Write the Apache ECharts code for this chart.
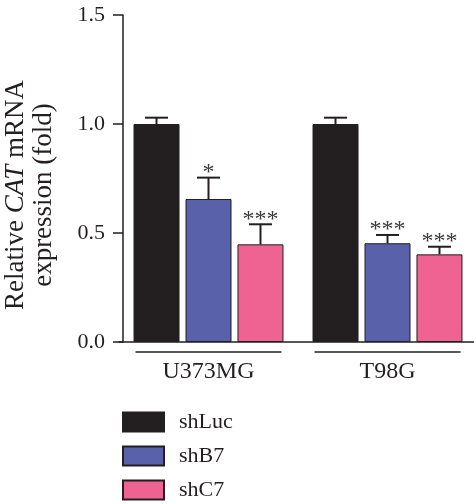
<!DOCTYPE html>
<html>
<head>
<meta charset="utf-8">
<script src="https://cdn.jsdelivr.net/npm/echarts@6/dist/echarts.min.js"></script>
<style>html,body{margin:0;padding:0;background:#fff;}#c{width:474px;height:504px;}</style>
</head>
<body>
<div id="c"></div>
<script>
const categories = ['U373MG', 'T98G'];
const seriesNames = ['shLuc', 'shB7', 'shC7'];
const shLuc = [1.0, 1.0];
const shLucErr = [0.029, 0.029];
const shLucSig = ['', ''];
const shB7 = [0.656, 0.453];
const shB7Err = [0.098, 0.038];
const shB7Sig = ['*', '***'];
const shC7 = [0.448, 0.402];
const shC7Err = [0.092, 0.035];
const shC7Sig = ['***', '***'];
const yTicks = [0, 0.5, 1.0, 1.5];

const colors = ['#231f20', '#5a61ab', '#ee6392'];
const dark = '#231f20';
const font = '"Liberation Serif", "Times New Roman", serif';
const values = [shLuc, shB7, shC7];
const errs = [shLucErr, shB7Err, shC7Err];
const sigs = [shLucSig, shB7Sig, shC7Sig];
const offsets = [-52, 0, 52];

const chart = echarts.init(document.getElementById('c'), null, {renderer: 'canvas'});

const series = [];
seriesNames.forEach((n, i) => {
  series.push({
    name: n, type: 'bar', data: values[i], barWidth: 46, barGap: '13%',
    itemStyle: {color: colors[i], borderColor: dark, borderWidth: 1},
    emphasis: {disabled: true}
  });
});
seriesNames.forEach((n, i) => {
  series.push({
    name: n + '_err', type: 'custom', z: 5,
    data: categories.map((c, k) => [k, values[i][k], errs[i][k]]),
    renderItem: function (params, api) {
      const k = api.value(0), v = api.value(1), e = api.value(2);
      const sig = sigs[i][k];
      const base = api.coord([k, v]);
      const top = api.coord([k, v + e]);
      const x = base[0] + offsets[i];
      return {
        type: 'group',
        children: [
          {type: 'line', shape: {x1: x, y1: base[1], x2: x, y2: top[1]}, style: {stroke: dark, lineWidth: 2}},
          {type: 'line', shape: {x1: x - 11.5, y1: top[1], x2: x + 11.5, y2: top[1]}, style: {stroke: dark, lineWidth: 2}},
          {type: 'text', style: {text: sig, x: x, y: top[1] + 7, textAlign: 'center', textVerticalAlign: 'bottom',
            font: '24px ' + font, fill: '#3a3a3a'}}
        ]
      };
    }
  });
});
series.push({
  name: 'groupLines', type: 'custom', z: 5,
  data: categories.map((c, k) => [k, 0]),
  renderItem: function (params, api) {
    const p = api.coord([api.value(0), 0]);
    return {type: 'line', shape: {x1: p[0] - 73, y1: p[1] + 10, x2: p[0] + 73, y2: p[1] + 10},
      style: {stroke: dark, lineWidth: 1.5}};
  }
});

chart.setOption({
  animation: false,
  backgroundColor: '#fff',
  grid: {left: 119, right: -3, top: 15, bottom: 162, containLabel: false, outerBoundsMode: 'none'},
  legend: {
    data: seriesNames, orient: 'vertical', left: 122, top: 411, padding: 0,
    itemWidth: 41, itemHeight: 19, itemGap: 12, icon: 'rect', selectedMode: false,
    textStyle: {fontFamily: font, fontSize: 22, color: dark, padding: [0, 0, 0, 10]}
  },
  xAxis: {
    type: 'category', data: categories,
    axisLine: {lineStyle: {color: dark, width: 1.5}},
    axisTick: {show: false},
    axisLabel: {fontFamily: font, fontSize: 24, color: dark, margin: 18, lineHeight: 24}
  },
  yAxis: {
    type: 'value', min: 0, max: 1.5, interval: 0.5, offset: -4,
    axisLine: {show: true, lineStyle: {color: dark, width: 1.5}},
    axisTick: {show: true, length: 10, lineStyle: {color: dark, width: 1.5}},
    splitLine: {show: false},
    axisLabel: {fontFamily: font, fontSize: 22, color: dark, margin: 18,
      formatter: v => yTicks.indexOf(v) >= 0 ? v.toFixed(1) : ''},
    name: '{a|Relative }{i|CAT}{a| mRNA}\n{a|expression (fold)}',
    nameLocation: 'middle', nameRotate: 90, nameGap: 65,
    nameTextStyle: {
      padding: [0, 33, 0, 0],
      rich: {
        a: {fontFamily: font, fontSize: 27, color: dark, lineHeight: 28},
        i: {fontFamily: font, fontSize: 27, fontStyle: 'italic', color: dark, lineHeight: 28}
      }
    }
  },
  series: series
});
</script>
</body>
</html>
